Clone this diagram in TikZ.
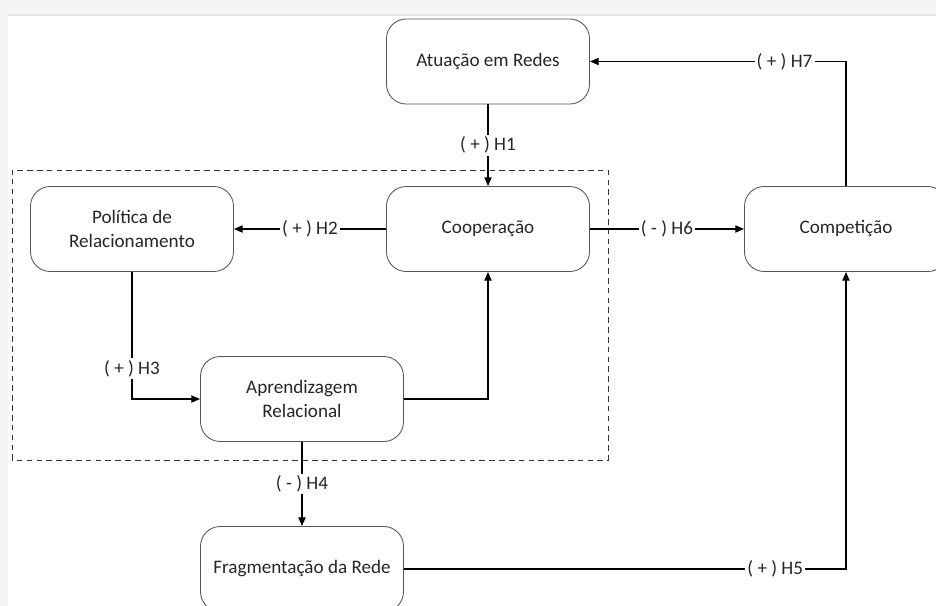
\documentclass[tikz,border=0pt]{standalone}
\usepackage{fontspec}
\setmainfont{Carlito}
\usepackage{tikz}
\usetikzlibrary{arrows.meta}
\definecolor{boxline}{RGB}{85,85,85}

\begin{document}
\begin{tikzpicture}[x=1cm,y=1cm,>={Triangle[length=2.2mm,width=1.8mm]},
      var/.style={draw=boxline,line width=0.6pt,rounded corners=14pt,fill=white,minimum width=5.075cm,minimum height=2.125cm,align=center,font=\fontsize{13.6}{17}\selectfont,text=black!85},
      hyp/.style={fill=white,inner sep=1.5pt,font=\fontsize{13.6}{15}\selectfont,text=black!85},
      link/.style={draw=black,line width=1pt,->}]
    % page and screenshot frame
    \clip (0,0) rectangle (23.4,15.15);
    \fill[white] (0,0) rectangle (23.4,15.15);
    \fill[black!4] (0,14.775) rectangle (23.4,15.15);
    \fill[black!4] (0,0) rectangle (0.2,14.775);
    \draw[black!10,line width=1.2pt] (0.2,14.775) -- (23.4,14.775);
    % dashed group
    \draw[black!80,line width=0.6pt,dash pattern=on 4pt off 3pt] (0.3,3.65) rectangle (15.2,10.9);
    % variables
    \node[var] (atu) at (12.2,13.6125) {Atuação em Redes};
    \node[var] (coop) at (12.2,9.425) {Cooperação};
    \node[var] (pol) at (3.3,9.425) {Política de\\Relacionamento};
    \node[var] (apr) at (7.55,5.175) {Aprendizagem\\Relacional};
    \node[var] (frag) at (7.55,0.925) {Fragmentação da Rede};
    \node[var] (comp) at (21.15,9.425) {Competição};
    % hypotheses
    \draw[link] (atu) -- node[hyp] {( + ) H1} (coop);
    \draw[link] (coop) -- node[hyp] {( + ) H2} (pol);
    \draw[link] (pol) |- node[hyp,pos=0.38] {( + ) H3} (apr);
    \draw[link] (apr) -| (coop);
    \draw[link] (apr) -- node[hyp] {( - ) H4} (frag);
    \draw[link] (frag) -| node[hyp,pos=0.42] {( + ) H5} (comp);
    \draw[link] (coop) -- node[hyp] {( - ) H6} (comp);
    \draw[link] (comp) |- node[hyp,pos=0.62] {( + ) H7} (atu);
\end{tikzpicture}
\end{document}
